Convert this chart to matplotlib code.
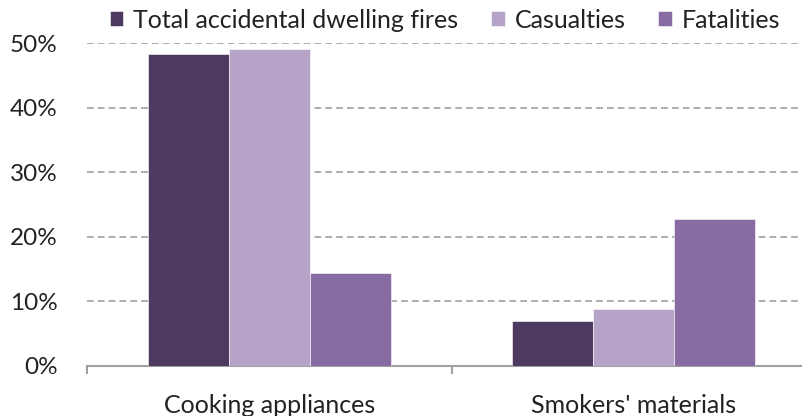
import numpy as np
import matplotlib
matplotlib.use("Agg")
import matplotlib.pyplot as plt
from matplotlib.ticker import FuncFormatter

# share of each cause, percent
categories = ["Cooking appliances", "Smokers' materials"]
series = ["Total accidental dwelling fires", "Casualties", "Fatalities"]
total_fires = [48.3, 6.9]
casualties = [49.1, 8.9]
fatalities = [14.4, 22.7]
colors = ["#4e3a60", "#b5a3c8", "#886ba3"]

plt.rcParams["font.family"] = ["Lato", "DejaVu Sans"]

fig = plt.figure(figsize=(8.02, 4.16), dpi=100)
ax = fig.add_axes([87 / 802, 50 / 416, 729 / 802, 323 / 416])

x = np.arange(len(categories))
width = 0.222
for i, (vals, name) in enumerate(zip([total_fires, casualties, fatalities], series)):
    ax.bar(x + (i - 1) * width, vals, width, color=colors[i], label=name,
           edgecolor="white", linewidth=0.4, zorder=3)

ax.set_ylim(0, 50)
ax.set_xlim(-0.5, 1.5)
ax.set_yticks(range(0, 51, 10))
ax.yaxis.set_major_formatter(FuncFormatter(lambda v, p: f"{v:.0f}%"))
ax.yaxis.grid(True, linestyle=(0, (4, 2.5)), color="#a0a0a0", linewidth=1.2, zorder=0)
ax.set_axisbelow(True)

for s in ["left", "right", "top"]:
    ax.spines[s].set_visible(False)
ax.spines["bottom"].set_color("#a0a0a0")
ax.spines["bottom"].set_linewidth(1.5)

ax.set_xticks(x)
ax.set_xticklabels(categories)
ax.set_xticks([-0.5, 0.5, 1.5], minor=True)
ax.tick_params(axis="x", which="major", length=0, pad=20, labelsize=18, colors="#222222")
ax.tick_params(axis="x", which="minor", length=6, width=1.5, color="#a0a0a0", direction="out")
ax.tick_params(axis="y", length=0, pad=21, labelsize=17.5, labelcolor="#222222")

fig.legend(loc="center", bbox_to_anchor=(0.555, 1 - 20 / 416), ncol=3,
           frameon=False, fontsize=18, handlelength=0.55, handleheight=0.55,
           handletextpad=0.4, columnspacing=1.3, labelcolor="#222222")

fig.savefig("out.png", dpi=100)
